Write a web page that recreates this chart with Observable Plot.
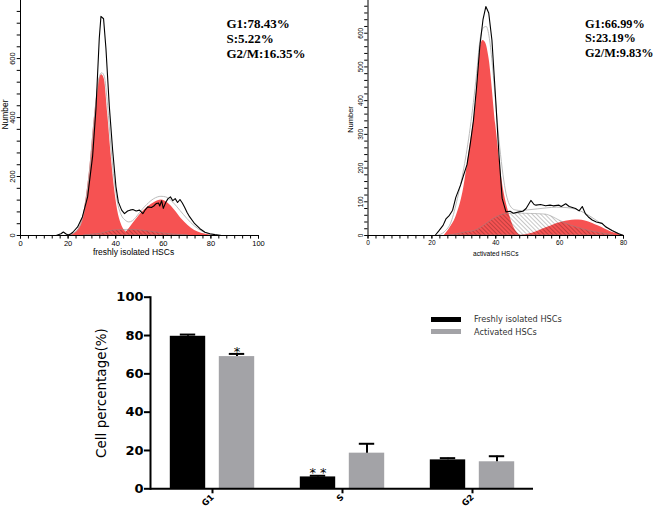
<!DOCTYPE html>
<html><head><meta charset="utf-8">
<script src="https://cdn.jsdelivr.net/npm/d3@7"></script>
<script src="https://cdn.jsdelivr.net/npm/@observablehq/plot@0.6"></script>
<style>
body{margin:0;background:#fff}
#wrap{position:relative;width:658px;height:511px;overflow:hidden;background:#fff}
.sw{position:absolute;width:30px;height:4.5px}
.lg{position:absolute;font:8.2px "DejaVu Sans",sans-serif;color:#333;line-height:10px;white-space:nowrap}
</style></head><body><div id="wrap"></div>
<script>
// ---------- top-left histogram: freshly isolated HSCs ----------
const freshHist = [[15,0],[17,6],[18,12],[19,6],[20,2],[21,5],[22,11],[24,29],[26,63],[28.2,131],[30.3,269],[31.7,429],[33.1,669],[33.8,743],[34.9,735],[35.9,634],[37.3,440],[38.7,291],[40.1,166],[41.1,114],[42.5,86],[43.7,74],[45,83],[46,86],[47.2,88],[48.6,83],[50,86],[51.4,74],[52.5,88],[53.5,97],[55,95],[56,100],[57,108],[58,110],[58.5,100],[59.3,118],[60,92],[61,112],[62,125],[63,131],[64,118],[65,125],[66,112],[67,122],[68,110],[69,95],[70,78],[71.1,63],[73.2,40],[75.4,23],[77.5,11],[79.6,6],[81.7,3],[84.5,0]];
const freshG1 = [[19.7,0],[22,5],[24,17],[26.8,86],[28.9,211],[31,394],[33.1,531],[34.1,545],[35.2,531],[36.6,417],[38,280],[39.4,166],[40.8,86],[42.3,40],[43.7,17],[45.8,5],[47,0]];
const freshG2 = [[43,0],[44.4,11],[47.2,40],[50,69],[53.5,97],[56.3,112],[59.2,120],[62,109],[64.8,86],[67.6,57],[70.4,34],[73.2,17],[76,8],[79.6,2],[82,0]];
const freshS = [[26.8,0],[30,3],[33.8,6],[39.4,17],[45,19],[50.7,17],[56.3,11],[60,7],[64.8,3],[70.4,0]];
const freshFit = [[20,0],[24,20],[27,95],[29,220],[31,400],[33,535],[34.1,552],[35.2,540],[36.6,440],[38,300],[39.4,185],[40.8,110],[42.3,70],[44,52],[45.5,46],[47,50],[48.5,62],[50,78],[53,105],[56,125],[59,133],[61,131],[64,113],[67,85],[70,57],[73,33],[76,16],[79,6],[82,0]];
const freshStats = ["G1:78.43%", "S:5.22%", "G2/M:16.35%"];
const freshXTicks = [0, 20, 40, 60, 80, 100];
const freshYTicks = [0, 200, 400, 600];

// ---------- top-right histogram: activated HSCs ----------
const actHist = [[21,0],[22.3,15],[23.5,30],[24.4,49],[25.5,60],[26.5,75],[27.5,113],[29,150],[30,181],[31,210],[32,270],[33,340],[34,440],[35,560],[36,640],[36.9,679],[37.8,660],[38.8,580],[40,400],[41,240],[42,110],[43.2,70],[44.5,72],[45.5,66],[47.3,70],[48.5,72],[49.5,80],[51,104],[52,92],[52.6,90],[54,92],[55.6,88],[57,90],[58,88],[59.8,90],[60.5,86],[61.9,94],[63,86],[64,83],[65,80],[66.1,73],[67.1,86],[68.1,64],[69,55],[70.2,46],[71.5,40],[73.3,36],[74.5,25],[76.4,15],[78.5,5],[80,0]];
const actG1 = [[23.9,0],[25.5,20],[27.5,54],[30,142],[31.7,250],[33.8,397],[35.3,564],[36,578],[36.8,572],[37.9,525],[40,328],[42,162],[44.2,64],[46.2,15],[47.8,0]];
const actG2 = [[47.3,0],[51.5,7],[55.6,22],[59.8,37],[63.9,45],[66,46],[68.1,43],[72.2,28],[76.4,10],[79.5,2],[80,0]];
const actS = [[25,0],[27.6,3],[30,8],[33.8,15],[36.5,30],[39,47],[41,57],[43.2,64],[47,65],[51,64],[55.6,62],[57.8,55],[59.8,45],[62,35],[66,22],[70,12],[74,5],[77,0]];
const actFit = [[21.5,0],[24,12],[26,40],[28,110],[30,200],[32,320],[34,480],[35,575],[36,615],[37,620],[38,585],[39,500],[40,390],[41,285],[42,200],[43,135],[44,98],[45,82],[46,76],[48,74],[50,76],[53,79],[56,82],[59,84],[62,83],[65,78],[68,66],[71,48],[74,30],[77,12],[80,0]];
const actStats = ["G1:66.99%", "S:23.19%", "G2/M:9.83%"];
const actXTicks = [0, 20, 40, 60, 80];
const actYTicks = [0, 100, 200, 300, 400, 500, 600];

// ---------- bottom bar chart ----------
const phases = ["G1", "S", "G2"];
const freshMean = [79.6, 6.2, 15.1];
const freshSEM = [0.9, 0.6, 0.9];
const actMean = [69.0, 18.6, 14.1];
const actSEM = [1.4, 4.9, 2.9];
const sigFresh = ["", "* *", ""];
const sigAct = ["*", "", ""];
const barYTicks = [0, 20, 40, 60, 80, 100];
const seriesNames = ["Freshly isolated HSCs", "Activated HSCs"];

const RED = "#f65252";
const GRAY = "#a3a3a7";
const wrap = document.getElementById("wrap");

function addHatch(svg, id) {
  const ns = "http://www.w3.org/2000/svg";
  const defs = document.createElementNS(ns, "defs");
  defs.innerHTML = `<pattern id="${id}" width="3" height="3" patternUnits="userSpaceOnUse" patternTransform="rotate(-45)"><line x1="0" y1="0" x2="0" y2="3" stroke="#000" stroke-opacity="0.55" stroke-width="0.8"/></pattern>`;
  svg.insertBefore(defs, svg.firstChild);
}

function histogram(o) {
  const X = d => d[0], Y = d => d[1];
  const svg = Plot.plot({
    width: o.width, height: 258,
    marginLeft: o.mL, marginRight: o.mR, marginTop: 0, marginBottom: 23,
    x: {domain: [0, o.xMax]},
    y: {domain: [0, o.yMax]},
    style: {fontFamily: "'Liberation Sans', Arial, sans-serif", overflow: "visible", background: "transparent"},
    marks: [
      Plot.areaY(o.g1, {x: X, y: Y, fill: RED, curve: "monotone-x"}),
      Plot.areaY(o.g2, {x: X, y: Y, fill: RED, curve: "monotone-x"}),
      Plot.areaY(o.s, {x: X, y: Y, fill: `url(#${o.hatch})`, stroke: "#8a8a8a", strokeWidth: 0.5, curve: "monotone-x"}),
      Plot.lineY(o.fit, {x: X, y: Y, stroke: "#b4b4b4", strokeWidth: 0.9, curve: "monotone-x"}),
      Plot.lineY(o.hist, {x: X, y: Y, stroke: "#000", strokeWidth: 1.1}),
      Plot.ruleX([0], {stroke: "#000", strokeWidth: 1}),
      Plot.ruleY([0], {stroke: "#000", strokeWidth: 1}),
      Plot.axisX({ticks: o.xTicks, tickSize: 3.5, tickPadding: 1.5, fontSize: o.tickFont, label: null}),
      Plot.axisX({ticks: d3.range(0, o.xMax + 0.01, o.xMinor), tickSize: 3.5, tickFormat: () => "", label: null}),
      Plot.axisY({ticks: d3.range(0, o.yMax, o.yMinor), tickSize: 3.3, tickFormat: () => "", label: null}),
      Plot.text(o.yTicks, {y: d => d, text: d => String(d), frameAnchor: "left", dx: o.yTickDx, rotate: -90, fontSize: o.tickFont, textAnchor: "middle", lineAnchor: "middle"}),
      Plot.text(["Number"], {frameAnchor: "left", dx: o.numDx, dy: o.numDy, rotate: -90, fontSize: o.numFont, textAnchor: "middle", lineAnchor: "middle"}),
      Plot.text([o.xLabel], {frameAnchor: "bottom", dx: o.xlabDx, dy: o.xlabDy, fontSize: o.xlabFont, lineAnchor: "middle"}),
      Plot.text([o.stats.join("\n")], {frameAnchor: "top-left", dx: o.statsDx, dy: o.statsDy, textAnchor: "start", lineAnchor: "top", fontFamily: "'Liberation Serif', 'Times New Roman', serif", fontWeight: "bold", fontSize: o.statsFont, lineHeight: 1.17})
    ]
  });
  addHatch(svg, o.hatch);
  svg.style.position = "absolute";
  svg.style.left = o.left + "px";
  svg.style.top = "0px";
  wrap.appendChild(svg);
}

histogram({
  width: 270, left: 0, mL: 20, mR: 12, xMax: 100, yMax: 797,
  g1: freshG1, g2: freshG2, s: freshS, fit: freshFit, hist: freshHist,
  xTicks: freshXTicks, xMinor: 100 / 30, yTicks: freshYTicks, yMinor: 40,
  tickFont: 7.5, yTickDx: -7.5, numDx: -15, numDy: -3.5, numFont: 8.5,
  xLabel: "freshly isolated HSCs", xlabDx: -6, xlabDy: 17, xlabFont: 8.5,
  stats: freshStats, statsDx: 206, statsDy: 16.7, statsFont: 13, hatch: "hatchL"
});
histogram({
  width: 328, left: 330, mL: 37.5, mR: 35, xMax: 80, yMax: 697,
  g1: actG1, g2: actG2, s: actS, fit: actFit, hist: actHist,
  xTicks: actXTicks, xMinor: 2.5, yTicks: actYTicks, yMinor: 20,
  tickFont: 6.5, yTickDx: -7.5, numDx: -17.5, numDy: 1.5, numFont: 7.5,
  xLabel: "activated HSCs", xlabDx: 0, xlabDy: 18, xlabFont: 6.6,
  stats: actStats, statsDx: 217, statsDy: 17.4, statsFont: 12.3, hatch: "hatchR"
});

// ---------- bar chart ----------
const fresh = phases.map((p, i) => ({phase: p, value: freshMean[i], err: freshSEM[i], sig: sigFresh[i]}));
const act = phases.map((p, i) => ({phase: p, value: actMean[i], err: actSEM[i], sig: sigAct[i]}));
const bar = Plot.plot({
  width: 658, height: 226,
  marginLeft: 150, marginRight: 125, marginTop: 11.7, marginBottom: 22.7,
  x: {domain: phases, type: "band", paddingInner: 0.2, paddingOuter: 0.0645},
  y: {domain: [0, 100]},
  style: {fontFamily: "'DejaVu Sans', sans-serif", overflow: "visible", background: "transparent"},
  marks: [
    Plot.barY(fresh, {x: "phase", y: "value", fill: "#000", insetLeft: 9.8, insetRight: 58.8}),
    Plot.barY(act, {x: "phase", y: "value", fill: GRAY, insetLeft: 58.8, insetRight: 9.8}),
    Plot.ruleX(fresh, {x: "phase", y1: "value", y2: d => d.value + d.err, dx: -24.5, stroke: "#000", strokeWidth: 2}),
    Plot.ruleX(act, {x: "phase", y1: "value", y2: d => d.value + d.err, dx: 24.5, stroke: "#000", strokeWidth: 2}),
    Plot.tickY(fresh, {x: "phase", y: d => d.value + d.err, insetLeft: 19.8, insetRight: 68.8, stroke: "#000", strokeWidth: 2}),
    Plot.tickY(act, {x: "phase", y: d => d.value + d.err, insetLeft: 68.8, insetRight: 19.8, stroke: "#000", strokeWidth: 2}),
    Plot.text(fresh, {x: "phase", y: d => d.value + d.err, text: "sig", dx: -24.5, dy: -3.2, fontSize: 13, lineAnchor: "middle"}),
    Plot.text(act, {x: "phase", y: d => d.value + d.err, text: "sig", dx: 24.5, dy: -2, fontSize: 13, lineAnchor: "middle"}),
    Plot.ruleY([0], {stroke: "#000", strokeWidth: 2}),
    Plot.frame({anchor: "left", stroke: "#000", strokeWidth: 2}),
    Plot.axisY({ticks: barYTicks, tickSize: 6, tickPadding: 1, fontSize: 13, fontWeight: "bold", strokeWidth: 2, label: null}),
    Plot.axisX({tickSize: 5, tickPadding: 2, tickRotate: -45, fontSize: 8.5, fontWeight: "bold", strokeWidth: 2, label: null}),
    Plot.text(["Cell percentage(%)"], {frameAnchor: "left", dx: -49, rotate: -90, fontSize: 13.5, textAnchor: "middle", lineAnchor: "middle"})
  ]
});
bar.style.position = "absolute";
bar.style.left = "0px";
bar.style.top = "285px";
wrap.appendChild(bar);

// legend
const legendColors = ["#000", GRAY];
seriesNames.forEach((name, i) => {
  const sw = document.createElement("div");
  sw.className = "sw";
  sw.style.left = "431px";
  sw.style.top = (317 + i * 12.3) + "px";
  sw.style.background = legendColors[i];
  wrap.appendChild(sw);
  const t = document.createElement("div");
  t.className = "lg";
  t.style.left = "474px";
  t.style.top = (314.3 + i * 12.4) + "px";
  t.textContent = name;
  wrap.appendChild(t);
});
</script></body></html>
